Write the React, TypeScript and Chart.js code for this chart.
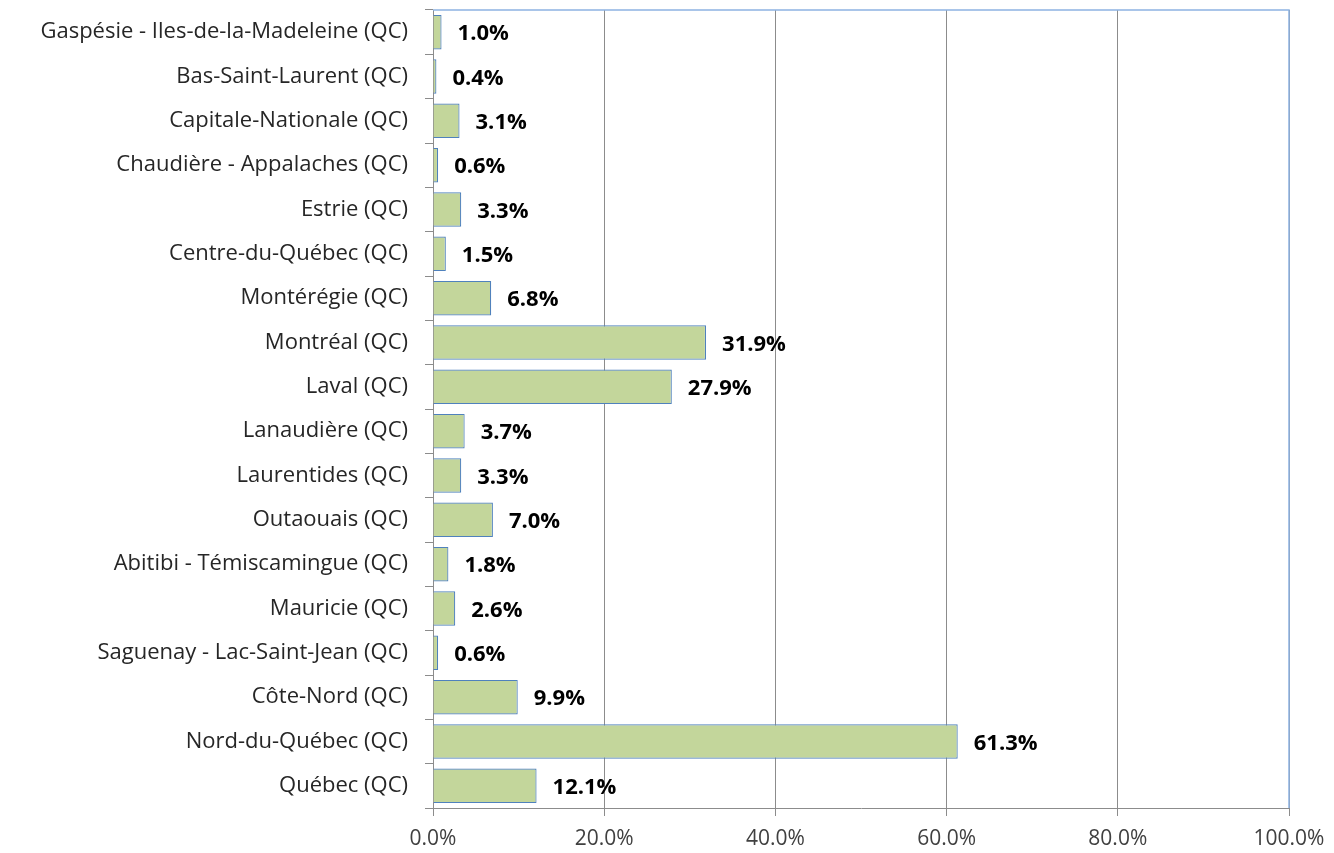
import React, { useEffect, useRef } from "react";
import { Chart, registerables } from "chart.js";

Chart.register(...registerables);

const categories = [
  "Gaspésie - Iles-de-la-Madeleine (QC)",
  "Bas-Saint-Laurent (QC)",
  "Capitale-Nationale (QC)",
  "Chaudière - Appalaches (QC)",
  "Estrie (QC)",
  "Centre-du-Québec (QC)",
  "Montérégie (QC)",
  "Montréal (QC)",
  "Laval (QC)",
  "Lanaudière (QC)",
  "Laurentides (QC)",
  "Outaouais (QC)",
  "Abitibi - Témiscamingue (QC)",
  "Mauricie (QC)",
  "Saguenay - Lac-Saint-Jean (QC)",
  "Côte-Nord (QC)",
  "Nord-du-Québec (QC)",
  "Québec (QC)",
];

const values = [1.0, 0.4, 3.1, 0.6, 3.3, 1.5, 6.8, 31.9, 27.9, 3.7, 3.3, 7.0, 1.8, 2.6, 0.6, 9.9, 61.3, 12.1];

const xTicks = [0, 20, 40, 60, 80, 100];

const FONT = "'Open Sans', 'Noto Sans', sans-serif";

const labelPlugin = {
  id: "valueLabels",
  afterDatasetsDraw(chart: any) {
    const ctx = chart.ctx;
    const meta = chart.getDatasetMeta(0);
    ctx.save();
    ctx.font = `bold 22px ${FONT}`;
    ctx.fillStyle = "#000";
    ctx.textAlign = "left";
    ctx.textBaseline = "middle";
    meta.data.forEach((el: any, i: number) => {
      ctx.fillText(values[i].toFixed(1) + "%", el.x + 16, el.y + 2);
    });
    ctx.restore();
  },
};

const framePlugin = {
  id: "frame",
  afterDraw(chart: any) {
    const { ctx, chartArea } = chart;
    ctx.save();
    ctx.strokeStyle = "#8db3e2";
    ctx.lineWidth = 1.5;
    ctx.beginPath();
    ctx.moveTo(chartArea.left, chartArea.top);
    ctx.lineTo(chartArea.right, chartArea.top);
    ctx.lineTo(chartArea.right, chartArea.bottom);
    ctx.stroke();
    ctx.restore();
  },
};

export default function App() {
  const ref = useRef<HTMLCanvasElement>(null);
  useEffect(() => {
    document.body.style.margin = "0";
    const chart = new Chart(ref.current!, {
      type: "bar",
      data: {
        labels: categories,
        datasets: [
          {
            data: values,
            backgroundColor: "#c3d69b",
            borderColor: "#4f81bd",
            borderWidth: 1.2,
            barPercentage: 0.78,
            categoryPercentage: 1,
          },
        ],
      },
      options: {
        indexAxis: "y",
        animation: false,
        responsive: false,
        maintainAspectRatio: false,
        layout: { padding: { top: 10, right: 45, left: 0, bottom: 0 } },
        plugins: { legend: { display: false }, tooltip: { enabled: false } },
        scales: {
          x: {
            min: 0,
            max: 100,
            afterBuildTicks(scale: any) {
              scale.ticks = xTicks.map((v) => ({ value: v }));
            },
            afterFit(scale: any) {
              scale.height = 45;
              scale.paddingLeft = 0;
              scale.paddingRight = 0;
            },
            grid: { color: "#8c8c8c", lineWidth: 1, tickLength: 8, drawTicks: true },
            border: { color: "#8c8c8c" },
            ticks: {
              color: "#404040",
              font: { family: FONT, size: 21 },
              padding: 10,
              callback: (v: any) => Number(v).toFixed(1) + "%",
            },
          },
          y: {
            afterFit(scale: any) {
              scale.width = 433;
              scale.paddingTop = 0;
              scale.paddingBottom = 0;
            },
            grid: { drawOnChartArea: false, color: "#8c8c8c", tickLength: 8, offset: true },
            border: { color: "#8c8c8c" },
            ticks: {
              color: "#262626",
              font: { family: FONT, size: 22 },
              padding: 17,
            },
          },
        },
      },
      plugins: [labelPlugin, framePlugin],
    } as any);
    return () => chart.destroy();
  }, []);
  return (
    <div style={{ position: "absolute", left: 0, top: 0, width: 1334, height: 853 }}>
      <canvas ref={ref} width={1334} height={853} style={{ width: 1334, height: 853 }} />
    </div>
  );
}
